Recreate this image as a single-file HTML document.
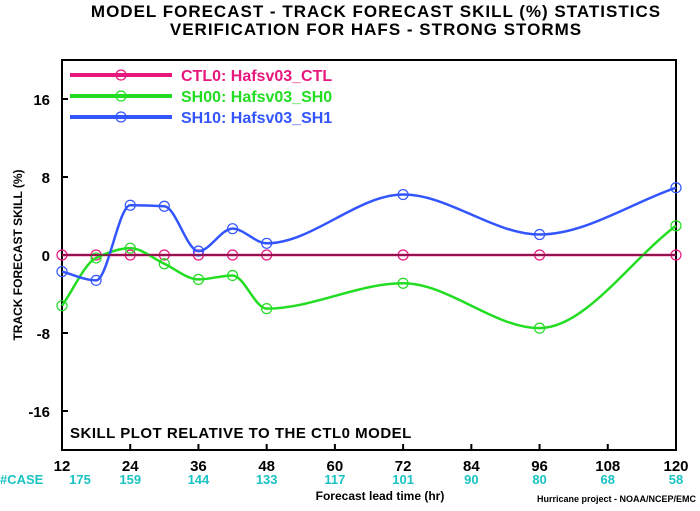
<!DOCTYPE html>
<html><head><meta charset="utf-8"><style>
body{margin:0;background:#fff;width:700px;height:506px;overflow:hidden}
svg text{font-family:"Liberation Sans",sans-serif;font-weight:bold}
</style></head><body>
<svg id="chart" width="700" height="506">
<text x="376" y="17" text-anchor="middle" font-size="17" letter-spacing="1">MODEL FORECAST - TRACK FORECAST SKILL (%) STATISTICS</text>
<text x="376" y="35" text-anchor="middle" font-size="17" letter-spacing="1">VERIFICATION FOR HAFS - STRONG STORMS</text>
<rect x="62" y="60" width="614" height="390" fill="none" stroke="#000" stroke-width="2"/>
<text transform="translate(22,255) rotate(-90)" text-anchor="middle" font-size="12">TRACK FORECAST SKILL (%)</text>
<text x="380" y="500" text-anchor="middle" font-size="12">Forecast lead time (hr)</text>
<text x="696" y="502" text-anchor="end" font-size="9">Hurricane project - NOAA/NCEP/EMC</text>
<text x="0" y="484" font-size="13" fill="#19c3c3">#CASE</text>
<text x="70" y="438" font-size="15" letter-spacing="0.5">SKILL PLOT RELATIVE TO THE CTL0 MODEL</text>
<g id="axes"></g><g id="series"></g><g id="legend"></g>
</svg>
<script>
const hours=[12,18,24,30,36,42,48,72,96,120];
const ctl0=[0,0,0,0,0,0,0,0,0,0];
const sh00=[-5.2,-0.3,0.7,-0.9,-2.5,-2.1,-5.5,-2.9,-7.5,3.0];
const sh10=[-1.7,-2.6,5.1,5.0,0.4,2.7,1.2,6.2,2.1,6.9];
const xTicks=[12,24,36,48,60,72,84,96,108,120];
const yTicks=[-16,-8,0,8,16];
const caseHours=[12,24,36,48,60,72,84,96,108,120];
const cases=[175,159,144,133,117,101,90,80,68,58];
const NS="http://www.w3.org/2000/svg";
const X=h=>62+(h-12)*614/108;
const Y=v=>255-v*9.75;
function mk(t,a,p){const e=document.createElementNS(NS,t);for(const k in a)e.setAttribute(k,a[k]);p.appendChild(e);return e;}
const ax=document.getElementById('axes');
xTicks.forEach(t=>{
  const l=mk('line',{x1:X(t),x2:X(t),y1:450,y2:444,stroke:'#000','stroke-width':2},ax);
  
  
  const tx=mk('text',{x:X(t),y:471,'text-anchor':'middle','font-size':15},ax);tx.textContent=t;
  
  
});
yTicks.forEach(t=>{
  const l=mk('line',{x1:62,x2:68,y1:Y(t),y2:Y(t),stroke:'#000','stroke-width':2},ax);
  
  
  const tx=mk('text',{x:50,y:Y(t)+6,'text-anchor':'end','font-size':15},ax);tx.textContent=t;
  
  
});
caseHours.forEach((h,i)=>{
  const tx=mk('text',{x:X(h)+(i==0?18:0),y:484,'text-anchor':'middle','font-size':13,fill:'#19c3c3'},ax);tx.textContent=cases[i];
  
  
});
function path(vals){
  const n=hours.length;
  const xs=hours.map(X), ys=vals.map(Y);
  const d=[];for(let i=0;i<n-1;i++)d.push((ys[i+1]-ys[i])/(xs[i+1]-xs[i]));
  const m=[];
  for(let i=0;i<n;i++){
    if(i==0)m.push(d[0]);else if(i==n-1)m.push(d[n-2]);
    else if(d[i-1]*d[i]<=0)m.push(0);
    else{const h0=xs[i]-xs[i-1],h1=xs[i+1]-xs[i];const w1=2*h1+h0,w2=h1+2*h0;m.push((w1+w2)/(w1/d[i-1]+w2/d[i]));}
  }
  let s='M'+xs[0]+','+ys[0];
  for(let i=0;i<n-1;i++){
    const h=(xs[i+1]-xs[i])/3;
    s+=' C'+(xs[i]+h)+','+(ys[i]+m[i]*h)+' '+(xs[i+1]-h)+','+(ys[i+1]-m[i+1]*h)+' '+xs[i+1]+','+ys[i+1];
  }
  return s;
}
const sg=document.getElementById('series');
[[ctl0,'#e8177d','ctl0'],[sh00,'#22dd22','sh00'],[sh10,'#3355ff','sh10']].forEach(([v,c,n])=>{
  const pa=mk('path',{d:path(v),fill:'none',stroke:c,'stroke-width':2.5},sg);
  
  
  hours.forEach((h,i)=>{
    const m=mk('circle',{cx:X(h),cy:Y(v[i]),r:5,fill:'none',stroke:c,'stroke-width':1.2},sg);
    
    
  });
});
mk('line',{x1:62,x2:676,y1:Y(0),y2:Y(0),stroke:'#7a1040','stroke-width':1.5},sg);
const lg=document.getElementById('legend');
[['CTL0: Hafsv03_CTL','#e8177d'],['SH00: Hafsv03_SH0','#22dd22'],['SH10: Hafsv03_SH1','#3355ff']].forEach(([t,c],i)=>{
  const y=75+i*21;
  const g=mk('g',{},lg);
  
  
  mk('line',{x1:70,x2:172,y1:y,y2:y,stroke:c,'stroke-width':4},g);
  mk('circle',{cx:121,cy:y,r:5,fill:'none',stroke:c,'stroke-width':1.2},g);
  const tx=mk('text',{x:181,y:y+6,'font-size':16,fill:c},g);tx.textContent=t;
});
</script>
</body></html>
